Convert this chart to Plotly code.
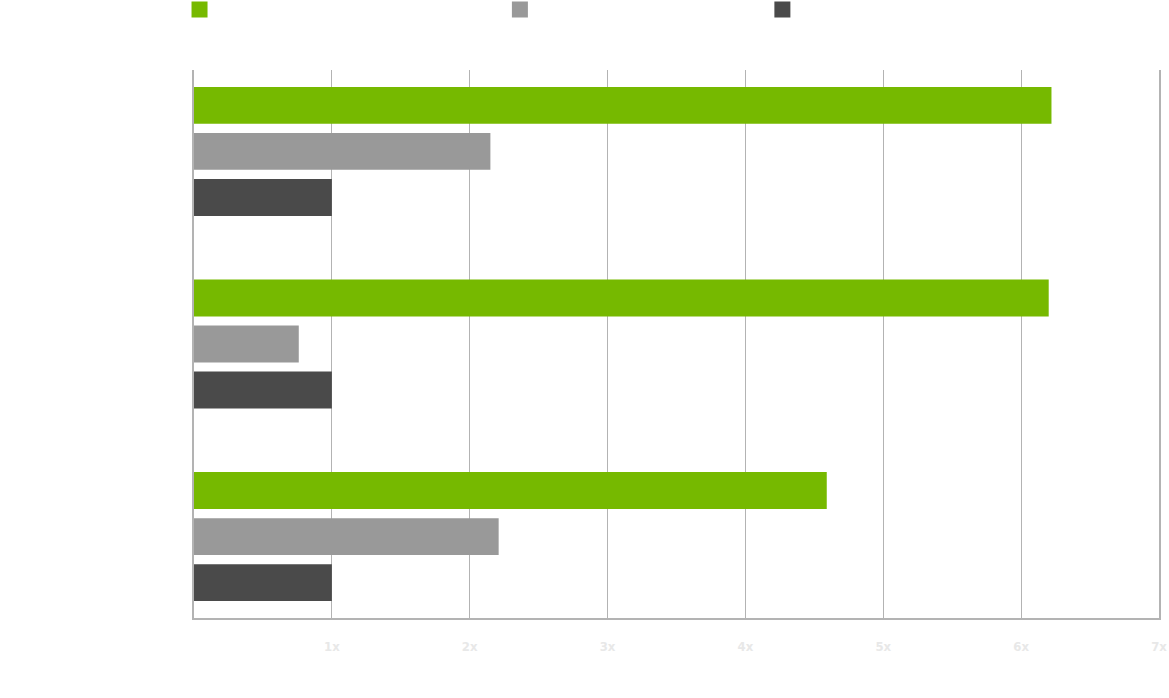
import plotly.graph_objects as go

# категории (подписи на оси белые, как в оригинале)
categories = ["Workload 1", "Workload 2", "Workload 3"]
series_names = ["Series A", "Series B", "Series C (baseline)"]
series_a = [6.22, 6.20, 4.59]
series_b = [2.15, 0.76, 2.21]
series_c = [1.00, 1.00, 1.00]
tick_vals = [0, 1, 2, 3, 4, 5, 6, 7]
tick_text = ["", "1x", "2x", "3x", "4x", "5x", "6x", "7x"]

colors = ["#76b900", "#999999", "#4a4a4a"]
legend_x = [-0.015, 0.317, 0.589]


def main():
    fig = go.Figure()
    for i, (name, vals) in enumerate(zip(series_names, [series_a, series_b, series_c])):
        fig.add_trace(go.Bar(
            y=categories,
            x=vals,
            orientation="h",
            name=name,
            marker=dict(color=colors[i], line=dict(width=0)),
            showlegend=False,
        ))
        # отдельная запись легенды с крупным квадратом
        fig.add_trace(go.Scatter(
            x=[None], y=[None],
            mode="markers",
            name=name,
            marker=dict(symbol="square", size=17, color=colors[i]),
            legend="legend" if i == 0 else f"legend{i + 1}",
        ))

    leg = dict(
        orientation="h",
        yref="container",
        yanchor="middle",
        y=1 - 9.5 / 698,
        xanchor="left",
        font=dict(color="#ffffff", size=13),
        itemsizing="trace",
        bgcolor="rgba(0,0,0,0)",
    )
    fig.update_layout(
        width=1169,
        height=698,
        margin=dict(l=194, r=10, t=70, b=80, autoexpand=False),
        plot_bgcolor="#ffffff",
        paper_bgcolor="#ffffff",
        barmode="group",
        bargap=0.283,
        bargroupgap=0.2,
        font=dict(family="DejaVu Sans Condensed", size=13, color="#e6e6e6"),
        legend=dict(leg, x=legend_x[0]),
        legend2=dict(leg, x=legend_x[1]),
        legend3=dict(leg, x=legend_x[2]),
        xaxis=dict(
            range=[0, 7],
            tickvals=tick_vals,
            ticktext=tick_text,
            showgrid=True,
            gridcolor="#b3b3b3",
            gridwidth=1,
            zeroline=False,
            showline=True,
            linecolor="#b3b3b3",
            linewidth=2,
            ticks="",
            ticklabelstandoff=15,
            automargin=False,
            tickfont=dict(family="DejaVu Sans Condensed", size=13, weight="bold", color="#e8e8e8"),
            fixedrange=True,
        ),
        yaxis=dict(
            autorange=False,
            range=[2.423, -0.423],
            showgrid=False,
            zeroline=False,
            showline=True,
            mirror=True,
            linecolor="#b3b3b3",
            linewidth=2,
            ticks="",
            automargin=False,
            tickfont=dict(color="#ffffff", size=13),
            fixedrange=True,
        ),
    )
    # убираем стандартный отступ body, чтобы график встал в угол окна
    fig.write_html(
        "out.html",
        config={"displayModeBar": False},
        post_script="document.body.style.margin='0';",
    )


if __name__ == "__main__":
    main()
